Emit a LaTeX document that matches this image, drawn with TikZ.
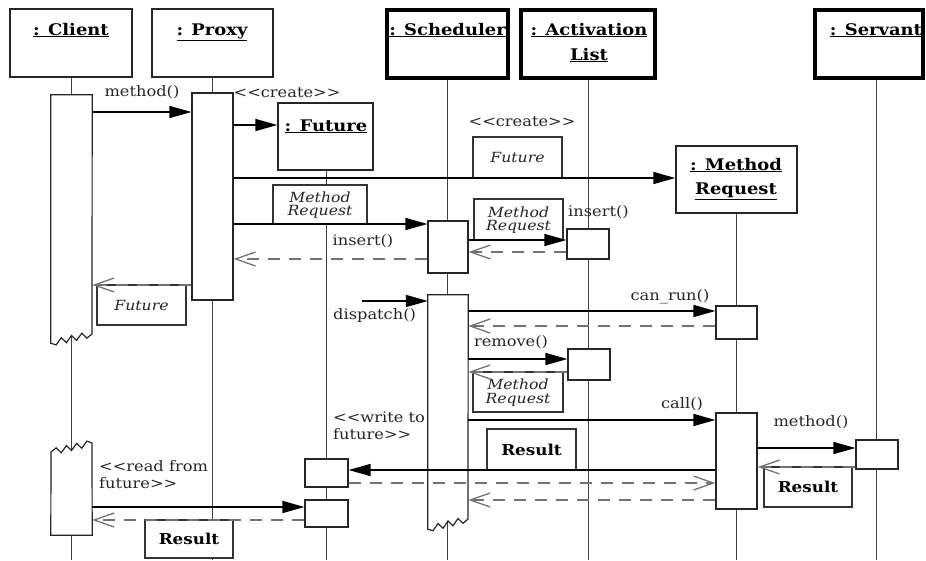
\documentclass[tikz,border=0pt]{standalone}
\usepackage{fontspec}
\setmainfont[FakeStretch=1.12]{DejaVu Serif}
\usetikzlibrary{arrows.meta,fit,calc}
\begin{document}
\begin{tikzpicture}[x=1pt,y=-1pt,
  hdr/.style={draw=black!85, line width=1.4pt, inner sep=0pt},
  hdrthick/.style={draw=black, line width=3.2pt, inner sep=0pt},
  htext/.style={font=\fontsize{16}{24}\selectfont\bfseries, inner sep=0pt, anchor=base},
  life/.style={draw=black!75, line width=0.9pt},
  act/.style={draw=black!85, line width=1.2pt, fill=white, inner sep=0pt},
  actz/.style={draw=black!85, line width=1.2pt, fill=white},
  anchorbox/.style={inner sep=0pt},
  note/.style={draw=black!80, line width=1.1pt, fill=white, inner sep=0pt},
  itext/.style={font=\fontsize{14}{15}\selectfont\itshape, inner sep=0pt, text=black!85},
  btext/.style={font=\fontsize{15}{16}\selectfont\bfseries, inner sep=0pt},
  msg/.style={draw=black, line width=1.5pt, -{Triangle[length=22pt,width=12pt]}},
  ret/.style={draw=black!55, line width=1.3pt, dash pattern=on 12pt off 9pt, -{Straight Barb[length=20pt,width=14pt]}},
  lbl/.style={font=\fontsize{14.5}{17}\selectfont, inner sep=0pt, text=black!85},
]
\useasboundingbox (0,0) rectangle (926,560);

% header boxes
\node[hdr, fit={(10,9) (132,77)}] (client) {};
\node[hdr, fit={(152,9) (273,77)}] (proxy) {};
\node[hdrthick, fit={(387,10) (508,78)}] (sched) {};
\node[hdrthick, fit={(521,10) (655,78)}] (alist) {};
\node[hdrthick, fit={(815,10) (923,78)}] (servant) {};
\node[hdr, fit={(278,103) (373,170)}] (future) {};
\node[hdr, fit={(676,146) (797,213)}] (mreq) {};

\node[htext] (clientT) at (71,35) {\underline{: Client}};
\node[htext] (proxyT) at (212,35) {\underline{: Proxy}};
\node[htext] (schedT) at (447.5,35) {\underline{: Scheduler}};
\node[htext] (alistT1) at (589,35) {\underline{: Activation}};
\node[htext] (alistT2) at (589,60) {\underline{List}};
\node[htext] (servantT) at (876,35) {\underline{: Servant}};
\node[htext] (futureT) at (326,131) {\underline{: Future}};
\node[htext] (mreqT1) at (736,170) {\underline{: Method}};
\node[htext] (mreqT2) at (736,194) {\underline{Request}};

% lifeline ends
\coordinate (clientE) at (71,560);
\coordinate (proxyE) at (212,560);
\coordinate (futureE) at (326,560);
\coordinate (schedE) at (447,560);
\coordinate (alistE) at (588,560);
\coordinate (mreqE) at (736,560);
\coordinate (servantE) at (876,560);

\draw[life] (clientE |- client.south) -- (clientE);
\draw[life] (proxyE |- proxy.south) -- (proxyE);
\draw[life] (futureE |- future.south) -- (futureE);
\draw[life] (schedE |- sched.south) -- (schedE);
\draw[life] (alistE |- alist.south) -- (alistE);
\draw[life] (mreqE |- mreq.south) -- (mreqE);
\draw[life] (servantE |- servant.south) -- (servantE);

% activations
\node[anchorbox, fit={(51,95) (92,343)}] (cA1) {};
\filldraw[actz] (cA1.south west) -- (cA1.north west) -- (cA1.north east) -- (92,334)
  -- (86.9,338.1) -- (81.75,333.25) -- (76.6,340.4) -- (71.5,335.5) -- (66.4,342.6)
  -- (61.25,337.75) -- (56.1,344.9) -- cycle;
\node[anchorbox, fit={(51,443) (92,535)}] (cA2) {};
\filldraw[actz] (cA2.south west) -- (51,452) -- (56.1,447.9) -- (61.25,452.75) -- (66.4,445.6)
  -- (71.5,450.5) -- (76.6,443.4) -- (81.75,448.25) -- (86.9,441.1) -- (92,443)
  -- (cA2.south east) -- cycle;
\node[act, fit={(192,93) (233,300)}] (pA1) {};
\node[act, fit={(305,459) (348,487)}] (fA1) {};
\node[act, fit={(305,500) (348,527)}] (fA2) {};
\node[act, fit={(428,221) (468,273)}] (sA1) {};
\node[anchorbox, fit={(428,295) (468,529)}] (sA2) {};
\filldraw[actz] (sA2.south west) -- (sA2.north west) -- (sA2.north east) -- (468,519)
  -- (463,523.25) -- (458,518.5) -- (453,525.75) -- (448,521) -- (443,528.25)
  -- (438,523.5) -- (433,530.75) -- cycle;
\node[act, fit={(567,229) (609,259)}] (aA1) {};
\node[act, fit={(568,349) (610,380)}] (aA2) {};
\node[act, fit={(716,306) (757,339)}] (mA1) {};
\node[act, fit={(716,413) (757,509)}] (mA2) {};
\node[act, fit={(856,440) (898,469)}] (vA1) {};

% notes
\node[note, fit={(273,185) (367,224)}] (nMR1) {};
\node[note, fit={(473,137) (562,178)}] (nFut2) {};
\node[note, fit={(474,199) (563,240)}] (nMR2) {};
\node[note, fit={(97,285) (186,325)}] (nFut1) {};
\node[note, fit={(473,372) (563,412)}] (nMR3) {};
\node[note, fit={(487,429) (576,470)}] (nRes1) {};
\node[note, fit={(764,467) (852,507)}] (nRes2) {};
\node[note, fit={(145,520) (233,558)}] (nRes3) {};

\node[itext] (nMR1a) at ($(nMR1.center)+(0,-7.5)$) {Method};
\node[itext] (nMR1b) at ($(nMR1.center)+(0,7.5)$) {Request};
\node[itext] (nFut2a) at (nFut2.center) {Future};
\node[itext] (nMR2a) at ($(nMR2.center)+(0,-7.5)$) {Method};
\node[itext] (nMR2b) at ($(nMR2.center)+(0,7.5)$) {Request};
\node[itext] (nFut1a) at (nFut1.center) {Future};
\node[itext] (nMR3a) at ($(nMR3.center)+(0,-7.5)$) {Method};
\node[itext] (nMR3b) at ($(nMR3.center)+(0,7.5)$) {Request};
\node[btext] (nRes1a) at (nRes1.center) {Result};
\node[btext] (nRes2a) at (nRes2.center) {Result};
\node[btext] (nRes3a) at (nRes3.center) {Result};

% messages
\coordinate (dispS) at (362,301);
\draw[msg] (cA1.east |- 0,112) -- (pA1.west |- 0,112);
\draw[msg] (pA1.east |- 0,125) -- (future.west |- 0,125);
\draw[msg] (pA1.east |- 0,178) -- (mreq.west |- 0,178);
\draw[msg] (pA1.east |- 0,224) -- (sA1.west |- 0,224);
\draw[ret] (sA1.west |- 0,259) -- (pA1.east |- 0,259);
\draw[msg] (sA1.east |- 0,240) -- (aA1.west |- 0,240);
\draw[ret] (aA1.west |- 0,252) -- (sA1.east |- 0,252);
\draw[ret] (pA1.west |- 0,285) -- (cA1.east |- 0,285);
\draw[msg] (dispS) -- (sA2.west |- dispS);
\draw[msg] (sA2.east |- 0,311) -- (mA1.west |- 0,311);
\draw[ret] (mA1.west |- 0,326) -- (sA2.east |- 0,326);
\draw[msg] (sA2.east |- 0,359) -- (aA2.west |- 0,359);
\draw[ret] (aA2.west |- 0,372) -- (sA2.east |- 0,372);
\draw[msg] (sA2.east |- 0,420) -- (mA2.west |- 0,420);
\draw[msg] (mA2.east |- 0,448) -- (vA1.west |- 0,448);
\draw[ret] (vA1.west |- 0,467) -- (mA2.east |- 0,467);
\draw[msg] (mA2.west |- 0,470) -- (fA1.east |- 0,470);
\draw[ret] (fA1.east |- 0,483) -- (mA2.west |- 0,483);
\draw[ret] (mA2.west |- 0,500) -- (sA2.east |- 0,500);
\draw[msg] (cA2.east |- 0,507) -- (fA2.west |- 0,507);
\draw[ret] (fA2.west |- 0,520) -- (cA2.east |- 0,520);

% labels
\node[lbl] (lMethod) at (142,92) {method()};
\node[lbl] (lCreate1) at (287,93) {<{}<create>{}>};
\node[lbl] (lCreate2) at (522,122) {<{}<create>{}>};
\node[lbl] (lIns1) at (363,241) {insert()};
\node[lbl, anchor=west] (lIns2) at (568,212) {insert()};
\node[lbl, anchor=west] (lDisp) at (333,315) {dispatch()};
\node[lbl] (lCan) at (670,297) {can\_run()};
\node[lbl] (lRem) at (511,342) {remove()};
\node[lbl] (lCall) at (682,404) {call()};
\node[lbl] (lMeth2) at (811,422) {method()};
\node[lbl, anchor=north west, align=left] (lWrite) at (333,412) {<{}<write to\\future>{}>};
\node[lbl, anchor=north west, align=left] (lRead) at (99,460) {<{}<read from\\future>{}>};
\end{tikzpicture}
\end{document}
